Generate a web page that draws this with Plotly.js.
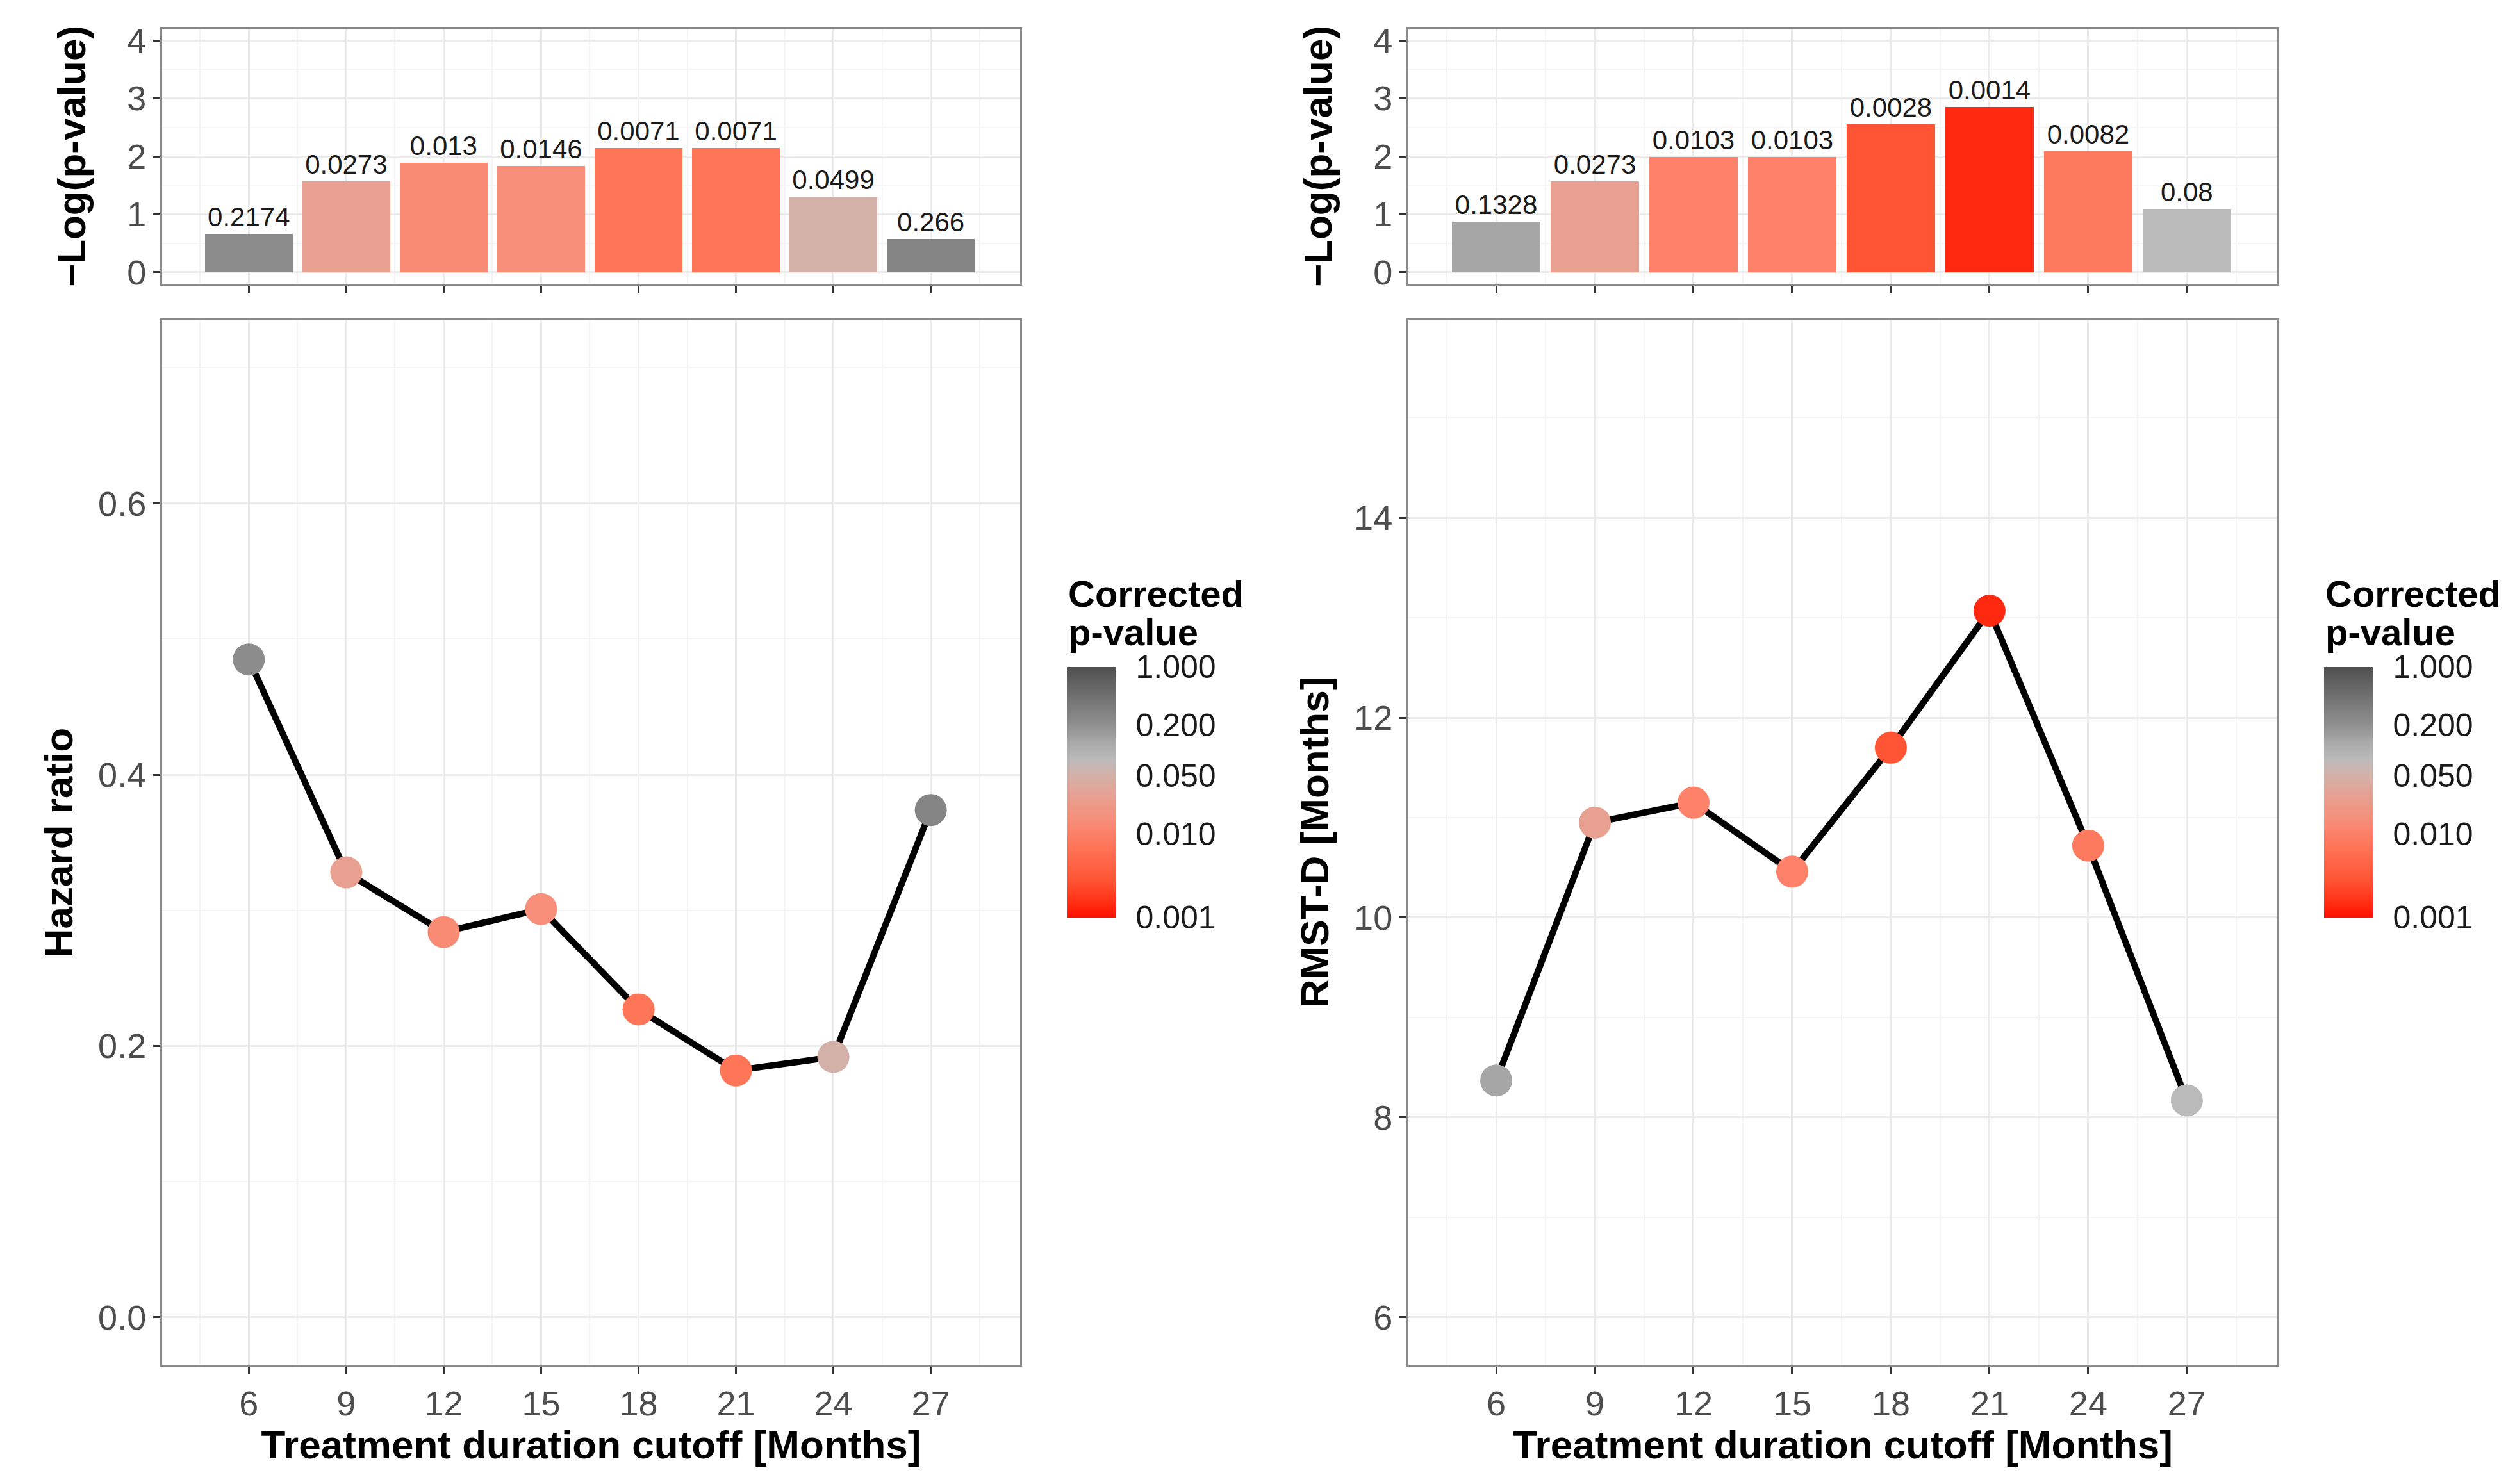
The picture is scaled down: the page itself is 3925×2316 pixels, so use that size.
<!DOCTYPE html>
<html>
<head>
<meta charset="utf-8">
<script src="https://cdn.plot.ly/plotly-3.0.1.min.js"></script>
<style>
  html, body { margin: 0; padding: 0; background: #fff; }
  #chart { width: 3925px; height: 2316px; }
</style>
</head>
<body>
<div id="chart"></div>
<script>
// cutoffs in months
const cutoffs = [6, 9, 12, 15, 18, 21, 24, 27]

// left column: hazard ratio
const hrPvalues = [0.2174, 0.0273, 0.013, 0.0146, 0.0071, 0.0071, 0.0499, 0.266]
const hrLabels = ['0.2174', '0.0273', '0.013', '0.0146', '0.0071', '0.0071', '0.0499', '0.266']
const hazardRatio = [0.485, 0.328, 0.284, 0.301, 0.227, 0.182, 0.192, 0.374]

// right column: RMST difference
const rmstPvalues = [0.1328, 0.0273, 0.0103, 0.0103, 0.0028, 0.0014, 0.0082, 0.08]
const rmstLabels = ['0.1328', '0.0273', '0.0103', '0.0103', '0.0028', '0.0014', '0.0082', '0.08']
const rmstD = [8.37, 10.95, 11.15, 10.46, 11.70, 13.07, 10.72, 8.17]

// colour bar ticks
const cbTickP = [1, 0.2, 0.05, 0.01, 0.001]
const cbTickText = ['1.000', '0.200', '0.050', '0.010', '0.001']
const legendTitle = ['Corrected', 'p-value']

const W = 3925, H = 2316
const FONT = 'Liberation Sans, Arial, Helvetica, sans-serif'

// log10(p) from -3 (red) to 0 (dark grey)
const pvalScale = [
    [0, '#ff1000'],
    [0.05, '#ff2a10'],
    [0.15, '#ff5535'],
    [0.285, '#ff7558'],
    [0.335, '#fd8168'],
    [0.37, '#f98a74'],
    [0.48, '#e8a090'],
    [0.567, '#d3b0a8'],
    [0.634, '#bababa'],
    [0.707, '#a6a6a6'],
    [0.78, '#8c8c8c'],
    [0.81, '#858585'],
    [1, '#505050']
]

const negLog = p => p.map(v => -Math.log10(v))
const logP = p => p.map(v => Math.log10(v))

// pixel helpers -> paper coords
const px = x => x / W
const py = y => 1 - y / H

function barTrace(pvals, labels, xa, ya) {
    return {
        type: 'bar',
        x: cutoffs,
        y: negLog(pvals),
        width: 2.7,
        xaxis: xa,
        yaxis: ya,
        text: labels,
        textposition: 'outside',
        constraintext: 'none',
        cliponaxis: false,
        textfont: {family: FONT, size: 42, color: '#1a1a1a'},
        marker: {
            color: logP(pvals),
            colorscale: pvalScale,
            cmin: -3,
            cmax: 0,
            showscale: false,
            line: {width: 0}
        },
        hoverinfo: 'skip',
        showlegend: false
    }
}

function lineTrace(vals, pvals, xa, ya, cbx) {
    return {
        type: 'scatter',
        mode: 'lines+markers',
        x: cutoffs,
        y: vals,
        xaxis: xa,
        yaxis: ya,
        cliponaxis: false,
        line: {color: '#000000', width: 10},
        marker: {
            size: 50,
            color: logP(pvals),
            colorscale: pvalScale,
            cmin: -3,
            cmax: 0,
            line: {width: 0},
            showscale: true,
            colorbar: {
                x: cbx,
                xanchor: 'left',
                xpad: 0,
                ypad: 0,
                y: py(1236),
                yanchor: 'middle',
                lenmode: 'pixels',
                len: 391,
                thickness: 76,
                outlinewidth: 0,
                tickmode: 'array',
                tickvals: logP(cbTickP),
                ticktext: cbTickText,
                ticks: 'outside',
                ticklen: 22,
                tickcolor: 'rgba(0,0,0,0)',
                tickfont: {family: FONT, size: 50, color: '#1a1a1a'},
                title: {text: ''}
            }
        },
        showlegend: false
    }
}

// legend title lines placed above each colour bar
function legendTitleAnnotations(xpix) {
    return legendTitle.map((t, i) => ({
        xref: 'paper',
        yref: 'paper',
        x: px(xpix),
        y: py(926 + i * 60),
        xanchor: 'left',
        yanchor: 'middle',
        showarrow: false,
        text: '<b>' + t + '</b>',
        font: {family: FONT, size: 58, color: '#000000'}
    }))
}

const gridMajor = '#ebebeb'
const gridMinor = '#f4f4f4'

function xAxis(domain, anchor, showLabels) {
    return {
        domain: domain,
        anchor: anchor,
        range: [3.33, 29.75],
        tickmode: 'array',
        tickvals: cutoffs,
        showticklabels: showLabels,
        ticks: 'outside',
        ticklen: 11,
        tickwidth: 3,
        tickcolor: '#333333',
        tickfont: {family: FONT, size: 54, color: '#4d4d4d'},
        showgrid: true,
        gridcolor: gridMajor,
        gridwidth: 3,
        minor: {tick0: 4.5, dtick: 3, showgrid: true, gridcolor: gridMinor, gridwidth: 2},
        zeroline: false,
        showline: true,
        mirror: true,
        linecolor: '#8a8a8a',
        linewidth: 3,
        title: showLabels ? {
            text: '<b>Treatment duration cutoff [Months]</b>',
            font: {family: FONT, size: 62, color: '#000000'},
            standoff: 2
        } : {text: ''}
    }
}

function yAxis(domain, anchor, range, tickvals, tickLabels, minor0, minorStep, title, standoff) {
    return {
        domain: domain,
        anchor: anchor,
        range: range,
        tickmode: 'array',
        tickvals: tickvals,
        ticktext: tickLabels,
        ticks: 'outside',
        ticklen: 11,
        tickwidth: 3,
        tickcolor: '#333333',
        tickfont: {family: FONT, size: 54, color: '#4d4d4d'},
        showgrid: true,
        gridcolor: gridMajor,
        gridwidth: 3,
        minor: {tick0: minor0, dtick: minorStep, showgrid: true, gridcolor: gridMinor, gridwidth: 2},
        zeroline: false,
        showline: true,
        mirror: true,
        linecolor: '#8a8a8a',
        linewidth: 3,
        title: {
            text: '<b>' + title + '</b>',
            font: {family: FONT, size: 62, color: '#000000'},
            standoff: standoff
        }
    }
}

const leftX = [px(253), px(1592)]
const rightX = [px(2198), px(3554)]
const topY = [py(443), py(45)]
const mainY = [py(2130), py(500)]

const barTicks = [0, 1, 2, 3, 4]
const barTickText = ['0', '1', '2', '3', '4']
const hrTicks = [0, 0.2, 0.4, 0.6]
const hrTickText = ['0.0', '0.2', '0.4', '0.6']
const rmstTicks = [6, 8, 10, 12, 14]
const rmstTickText = ['6', '8', '10', '12', '14']

const data = [
    barTrace(hrPvalues, hrLabels, 'x', 'y'),
    lineTrace(hazardRatio, hrPvalues, 'x2', 'y2', px(1665)),
    barTrace(rmstPvalues, rmstLabels, 'x3', 'y3'),
    lineTrace(rmstD, rmstPvalues, 'x4', 'y4', px(3627))
]

const layout = {
    width: W,
    height: H,
    margin: {l: 0, r: 0, t: 0, b: 0},
    paper_bgcolor: '#ffffff',
    plot_bgcolor: '#ffffff',
    font: {family: FONT},
    bargap: 0,
    xaxis: xAxis(leftX, 'y', false),
    yaxis: yAxis(topY, 'x', [-0.2, 4.2], barTicks, barTickText, 0.5, 1, '\u2212Log(p-value)', 45),
    xaxis2: xAxis(leftX, 'y2', true),
    yaxis2: yAxis(mainY, 'x2', [-0.035, 0.735], hrTicks, hrTickText, 0.1, 0.2, 'Hazard ratio', 20),
    xaxis3: xAxis(rightX, 'y3', false),
    yaxis3: yAxis(topY, 'x3', [-0.2, 4.2], barTicks, barTickText, 0.5, 1, '\u2212Log(p-value)', 45),
    xaxis4: xAxis(rightX, 'y4', true),
    yaxis4: yAxis(mainY, 'x4', [5.525, 15.975], rmstTicks, rmstTickText, 7, 2, 'RMST-D [Months]', 20),
    annotations: legendTitleAnnotations(1665).concat(legendTitleAnnotations(3627))
}

Plotly.newPlot('chart', data, layout, {staticPlot: true})
</script>
</body>
</html>
